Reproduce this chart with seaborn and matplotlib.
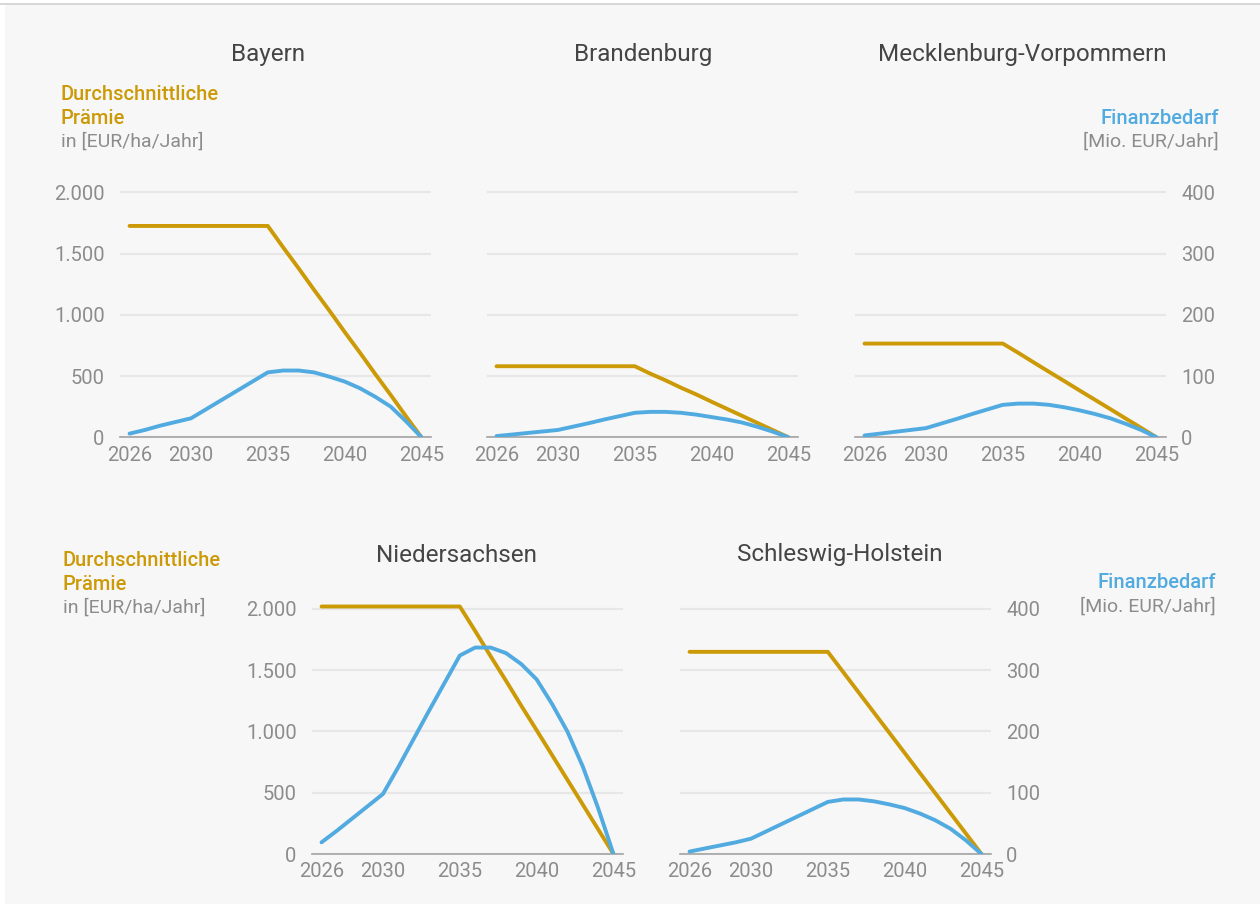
import matplotlib
matplotlib.use("Agg")
import matplotlib.pyplot as plt
import seaborn as sns
from matplotlib.ticker import FuncFormatter
from matplotlib.patches import Rectangle
from matplotlib.lines import Line2D

# Jahre und Werte
years = [2026, 2027, 2028, 2029, 2030, 2031, 2032, 2033, 2034, 2035,
         2036, 2037, 2038, 2039, 2040, 2041, 2042, 2043, 2044, 2045]

# Durchschnittliche Praemie [EUR/ha/Jahr]
praemie_bayern = [1725, 1725, 1725, 1725, 1725, 1725, 1725, 1725, 1725, 1725,
                  1550, 1380, 1205, 1035, 860, 690, 515, 345, 170, 0]
praemie_brandenburg = [580, 580, 580, 580, 580, 580, 580, 580, 580, 580,
                       520, 465, 405, 350, 290, 232, 174, 116, 58, 0]
praemie_mv = [765, 765, 765, 765, 765, 765, 765, 765, 765, 765,
              690, 612, 535, 459, 382, 306, 230, 153, 77, 0]
praemie_nds = [2020, 2020, 2020, 2020, 2020, 2020, 2020, 2020, 2020, 2020,
               1820, 1615, 1415, 1210, 1010, 808, 606, 404, 202, 0]
praemie_sh = [1650, 1650, 1650, 1650, 1650, 1650, 1650, 1650, 1650, 1650,
              1485, 1320, 1155, 990, 825, 660, 495, 330, 165, 0]

# Finanzbedarf [Mio. EUR/Jahr]
bedarf_bayern = [6, 12, 19, 25, 31, 46, 61, 76, 91, 106,
                 109, 109, 106, 99, 91, 80, 66, 50, 26, 0]
bedarf_brandenburg = [2, 4.5, 7, 9.5, 12, 17.5, 23, 29, 34.5, 40,
                      41.5, 41.5, 40, 37, 33, 29, 24, 17, 9, 0]
bedarf_mv = [3, 6, 9, 12, 15, 22.5, 30, 38, 45.5, 53,
             55, 55, 53, 49, 44, 38, 31, 22, 12, 0]
bedarf_nds = [19, 38, 58, 78, 98, 142, 188, 234, 279, 324,
              337, 337, 328, 310, 285, 245, 200, 143, 75, 0]
bedarf_sh = [4, 9, 14, 19, 25, 37, 49, 61, 73, 85,
             89, 89, 86, 81, 75, 66, 55, 41, 22, 0]

states = ["Bayern", "Brandenburg", "Mecklenburg-Vorpommern", "Niedersachsen", "Schleswig-Holstein"]
premium_series = [praemie_bayern, praemie_brandenburg, praemie_mv, praemie_nds, praemie_sh]
demand_series = [bedarf_bayern, bedarf_brandenburg, bedarf_mv, bedarf_nds, bedarf_sh]
xticks = [2026, 2030, 2035, 2040, 2045]
left_ticks = [0, 500, 1000, 1500, 2000]
right_ticks = [0, 100, 200, 300, 400]

GOLD = "#cc9a06"
BLUE = "#52abe0"
GRID = "#e7e7e7"
TICK = "#8c8c8c"
AXIS = "#a3a3a3"
TITLE = "#454545"

sns.set_style("white")
plt.rcParams["font.family"] = ["Roboto", "DejaVu Sans"]

W, H = 1260, 908
fig = plt.figure(figsize=(W / 100, H / 100), dpi=100)
fig.patch.set_facecolor("white")
fig.patches.append(Rectangle((5 / W, 4 / H), 1 - 5 / W, 899 / H, transform=fig.transFigure,
                             facecolor="#f7f7f7", edgecolor="none", zorder=-10))
fig.add_artist(Line2D([0, 1], [1 - 4 / H, 1 - 4 / H], color="#cfcfcf", lw=1.2))

de_fmt = FuncFormatter(lambda v, p: f"{int(round(v)):,}".replace(",", "."))

# (left px, zero-line px, title x, title y, left labels, right labels)
layout = [
    (120, 437.3, 268, 54, True, False),
    (487, 437.3, 643, 54, False, False),
    (855, 437.3, 1022, 54, False, True),
    (312, 854, 456, 555, True, False),
    (680, 854, 840, 555, False, True),
]

for name, prem, dem, (lx, zy, tx, ty, show_l, show_r) in zip(states, premium_series, demand_series, layout):
    ax = fig.add_axes([lx / W, (H - zy) / H, 311 / W, 252.4 / H])
    ax.set_facecolor("none")
    sns.lineplot(x=years, y=prem, ax=ax, color=GOLD, linewidth=2.8)
    ax.set_xlim(2025.38, 2045.62)
    ax.set_ylim(0, 2060)
    ax.set_xticks(xticks)
    ax.set_yticks(left_ticks)
    ax.yaxis.set_major_formatter(de_fmt)
    ax.yaxis.grid(True, color=GRID, lw=1.6)
    ax.xaxis.grid(False)
    ax.set_axisbelow(True)
    for s in ["top", "right", "left"]:
        ax.spines[s].set_visible(False)
    ax.spines["bottom"].set_color(AXIS)
    ax.spines["bottom"].set_linewidth(1.2)
    ax.tick_params(axis="x", length=4, width=1, color=AXIS, pad=2, labelsize=14.5, labelcolor=TICK)
    ax.tick_params(axis="y", length=0, pad=11, labelsize=14.5, labelcolor=TICK, labelleft=show_l)
    ax.set_xlabel("")
    ax.set_ylabel("")

    ax2 = ax.twinx()
    sns.lineplot(x=years, y=dem, ax=ax2, color=BLUE, linewidth=2.8)
    ax2.set_ylim(0, 412)
    ax2.set_yticks(right_ticks)
    ax2.grid(False)
    for s in ax2.spines.values():
        s.set_visible(False)
    ax2.tick_params(axis="y", length=0, pad=11, labelsize=14.5, labelcolor=TICK,
                    labelright=show_r, labelleft=False)
    ax2.set_ylabel("")

    fig.text(tx / W, 1 - ty / H, name, ha="center", va="center", fontsize=17.5, color=TITLE)

# Achsenbeschriftungen
for x0, y0 in [(61, 94), (63, 560)]:
    fig.text(x0 / W, 1 - y0 / H, "Durchschnittliche", ha="left", va="center",
             fontsize=14.5, color=GOLD, fontweight="medium")
    fig.text(x0 / W, 1 - (y0 + 24) / H, "Prämie", ha="left", va="center",
             fontsize=14.5, color=GOLD, fontweight="medium")
    fig.text(x0 / W, 1 - (y0 + 48) / H, "in [EUR/ha/Jahr]", ha="left", va="center",
             fontsize=14, color=TICK)

for x1, y1 in [(1219, 118), (1216, 583)]:
    fig.text(x1 / W, 1 - y1 / H, "Finanzbedarf", ha="right", va="center",
             fontsize=14.5, color=BLUE, fontweight="medium")
    fig.text(x1 / W, 1 - (y1 + 24) / H, "[Mio. EUR/Jahr]", ha="right", va="center",
             fontsize=14, color=TICK)

fig.savefig("out.png", dpi=100, facecolor=fig.get_facecolor())
